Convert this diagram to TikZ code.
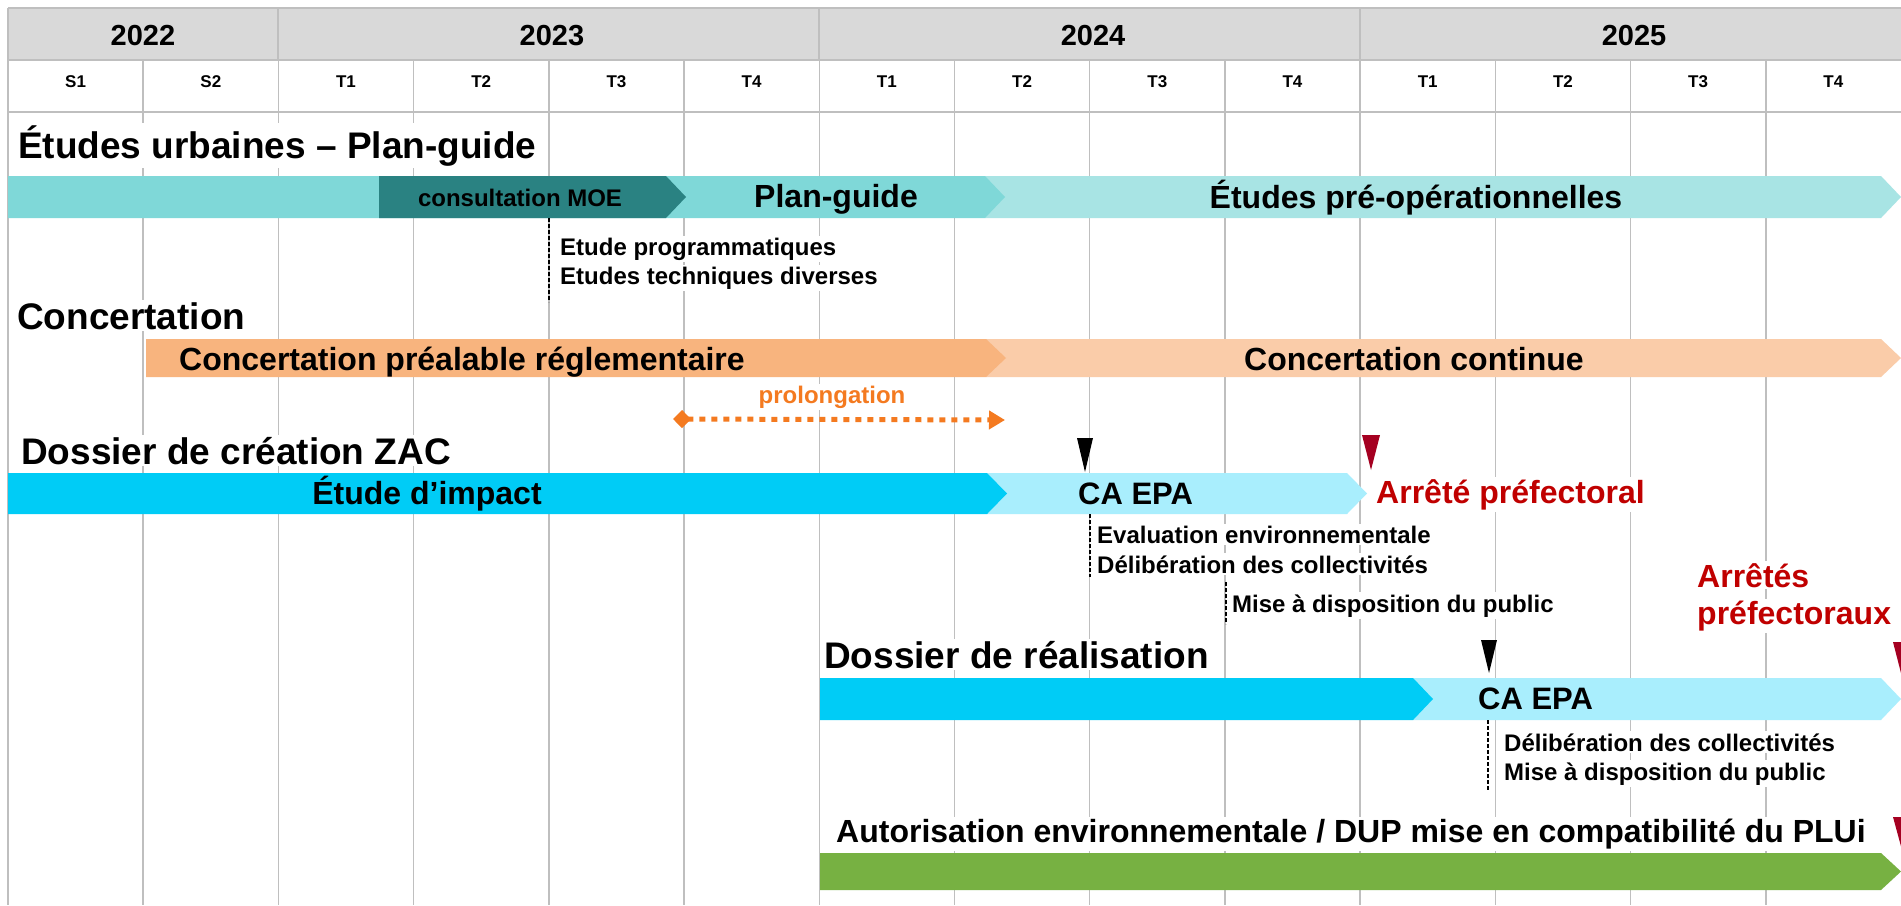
\documentclass[tikz,border=0pt]{standalone}
\usepackage{fontspec}
\setmainfont{Liberation Sans}
\usetikzlibrary{arrows.meta}
\definecolor{gridgray}{HTML}{BFBFBF}
\definecolor{headgray}{HTML}{D9D9D9}
\definecolor{tealA}{HTML}{7FD8D8}
\definecolor{tealD}{HTML}{2A8282}
\definecolor{tealL}{HTML}{A8E4E4}
\definecolor{orgA}{HTML}{F8B47E}
\definecolor{orgL}{HTML}{FACCA9}
\definecolor{bluA}{HTML}{00CCF6}
\definecolor{bluL}{HTML}{A9EEFD}
\definecolor{grn}{HTML}{77B142}
\definecolor{mkred}{HTML}{A50021}
\definecolor{txtred}{HTML}{C00000}
\definecolor{prol}{HTML}{F47A20}
\newcommand\chevbar[5]{\fill[#1] (#2,#4) -- (#3,#4) -- ({#3+20},{(#4+#5)/2}) -- (#3,#5) -- (#2,#5) -- cycle;}
\begin{document}
\begin{tikzpicture}[x=1pt,y=-1pt,
  t/.style={font=\bfseries\fontsize{#1pt}{#1pt}\selectfont, inner sep=2pt},
  wt/.style={t=#1, fill=white},
  gridln/.style={draw=gridgray, line width=1.5pt},
  headln/.style={draw=gridgray, line width=2pt},
  dashln/.style={draw=black, line width=1.2pt, dash pattern=on 4pt off 2pt},
]
\useasboundingbox[fill=white] (0,0) rectangle (1901,905);
% header
\fill[headgray] (8,8) rectangle (1901,60);
\foreach \i in {0,...,13} \draw[gridln] ({8+135.21*\i},60) -- ({8+135.21*\i},905);
\foreach \i in {0,2,6,10} \draw[headln] ({8+135.21*\i},8) -- ({8+135.21*\i},60);
\draw[headln] (8,8) -- (1901,8);
\draw[headln] (8,60) -- (1901,60);
\draw[headln] (8,112) -- (1901,112);
\node[t=29, anchor=base] (y22) at (143,45) {2022};
\node[t=29, anchor=base] (y23) at (552,45) {2023};
\node[t=29, anchor=base] (y24) at (1093,45) {2024};
\node[t=29, anchor=base] (y25) at (1634,45) {2025};
\foreach \q [count=\i from 0] in {S1,S2,T1,T2,T3,T4,T1,T2,T3,T4,T1,T2,T3,T4}
  \node[t=17, anchor=base] (q\i) at ({8+135.21*\i+67.6},87) {\q};

% bars
\chevbar{tealL}{985}{1881}{176}{218}
\chevbar{tealA}{8}{985}{176}{218}
\chevbar{tealD}{379}{666}{176}{218}
\chevbar{orgL}{986}{1881}{339}{377}
\chevbar{orgA}{146}{986}{339}{377}
\chevbar{bluL}{987}{1347}{473}{514}
\chevbar{bluA}{8}{987}{473}{514}
\chevbar{bluL}{1413}{1881}{678}{720}
\chevbar{bluA}{820}{1413}{678}{720}
\chevbar{grn}{820}{1881}{853}{890}

% bar texts
\node[t=24, anchor=base] (moe) at (520,206) {consultation MOE};
\node[t=32, anchor=base] (pg) at (836,207) {Plan-guide};
\node[t=32, anchor=base] (preop) at (1416,208) {Études pré-opérationnelles};
\node[t=32, anchor=base] (cpr) at (462,370) {Concertation préalable réglementaire};
\node[t=32, anchor=base] (cc) at (1414,370) {Concertation continue};
\node[t=32, anchor=base] (ei) at (427,504) {Étude d’impact};
\node[t=31, anchor=base west] (ca1) at (1076,504) {CA EPA};
\node[t=31, anchor=base west] (ca2) at (1476,709) {CA EPA};

% titles
\node[wt=37, anchor=base west] (tit1) at (16,158) {Études urbaines – Plan-guide};
\node[wt=37, anchor=base west] (tit2) at (15,329) {Concertation};
\node[wt=37, anchor=base west] (tit3) at (19,464) {Dossier de création ZAC};
\node[wt=37, anchor=base west] (tit4) at (822,668) {Dossier de réalisation};
\node[wt=32, anchor=base west] (tit5) at (834,842) {Autorisation environnementale / DUP mise en compatibilité du PLUi};

% small notes
\node[wt=24, anchor=base west] (n1) at (558,255) {Etude programmatiques};
\node[wt=24, anchor=base west] (n2) at (558,284) {Etudes techniques diverses};
\node[wt=24, anchor=base west] (n3) at (1095,543) {Evaluation environnementale};
\node[wt=24, anchor=base west] (n4) at (1095,573) {Délibération des collectivités};
\node[wt=24, anchor=base west] (n5) at (1230,612) {Mise à disposition du public};
\node[wt=24, anchor=base west] (n6) at (1502,751) {Délibération des collectivités};
\node[wt=24, anchor=base west] (n7) at (1502,780) {Mise à disposition du public};

% red texts
\node[wt=32, anchor=base west, text=txtred] (ap) at (1374,503) {Arrêté préfectoral};
\node[wt=32, anchor=base west, text=txtred] (aps1) at (1695,587) {Arrêtés};
\node[wt=32, anchor=base west, text=txtred] (aps2) at (1695,624) {préfectoraux};

% prolongation
\node[wt=24, anchor=base, text=prol] (prl) at (832,403) {prolongation};
\coordinate (pA) at (677,419);
\coordinate (pB) at (1005,420);
\draw[prol, line width=5pt, dash pattern=on 6pt off 6pt,
  {Diamond[length=18pt,width=18pt,sep=-4pt]}-{Triangle[length=16pt,width=18pt]}] (pA) -- (pB);

% markers
\fill[black] (1077,438) -- (1093,438) -- (1085,472) -- cycle;
\fill[mkred] (1362,435) -- (1380,435) -- (1371,470) -- cycle;
\fill[black] (1481,640) -- (1497,640) -- (1489,673) -- cycle;
\fill[mkred] (1893,642) -- (1911,642) -- (1902,677) -- cycle;
\fill[mkred] (1893,817) -- (1911,817) -- (1902,850) -- cycle;

% dashed connectors
\coordinate (d1a) at (549,218); \coordinate (d1b) at (549,302);
\coordinate (d2a) at (1090,514); \coordinate (d2b) at (1090,577);
\coordinate (d3a) at (1226,582); \coordinate (d3b) at (1226,624);
\coordinate (d4a) at (1488,720); \coordinate (d4b) at (1488,790);
\draw[dashln] (d1a) -- (d1b);
\draw[dashln] (d2a) -- (d2b);
\draw[dashln] (d3a) -- (d3b);
\draw[dashln] (d4a) -- (d4b);
\end{tikzpicture}
\end{document}
